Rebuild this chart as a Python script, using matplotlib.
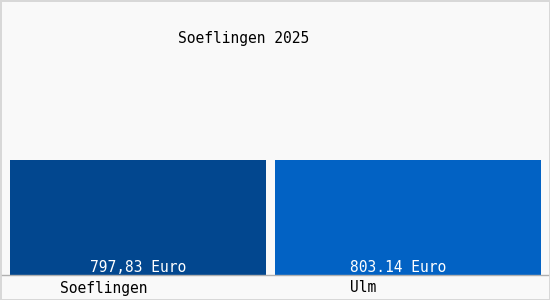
import matplotlib.pyplot as plt
from matplotlib.lines import Line2D
import matplotlib.transforms as mtransforms

places = ["Soeflingen", "Ulm"]
values = [797.83, 803.14]
value_labels = ["797,83 Euro", "803.14 Euro"]
colors = ["#02478F", "#0262C4"]
title = "Soeflingen 2025"

mono = "DejaVu Sans Mono"

fig = plt.figure(figsize=(5.5, 3), dpi=100)
fig.patch.set_facecolor("#F9F9F9")
fig.patch.set_edgecolor("#D8D8D8")
fig.patch.set_linewidth(2)

ax = fig.add_axes([10 / 550, 25 / 300, 531 / 550, 275 / 300])
ax.set_facecolor("none")
xs = list(range(len(places)))
widths = [0.948, 0.985]
ax.bar(xs, values, width=widths, color=colors)
ax.set_xlim(-widths[0] / 2, xs[-1] + widths[-1] / 2)
ax.set_ylim(0, 803.14 * 275 / 115.5)
ax.axis("off")

trans = mtransforms.blended_transform_factory(ax.transData, ax.transAxes)

# value labels inside bars, near the bottom
shifts = [0.0, -0.037]
for x, lab, s in zip(xs, value_labels, shifts):
    ax.text(x + s, 7 / 275, lab, transform=trans, ha="center", va="center",
            color="white", fontsize=10.5, family=mono)

# category labels under the axis
name_shifts = [-0.126, -0.167]
for x, name, s in zip(xs, places, name_shifts):
    ax.text(x + s, -13 / 275, name, transform=trans, ha="center", va="center",
            color="black", fontsize=10.5, family=mono)

fig.add_artist(Line2D([2 / 550, 548 / 550], [25 / 300, 25 / 300], color="#B0B0B0", lw=1))
fig.text(244 / 550, 1 - 38 / 300, title, ha="center", va="center", fontsize=10.5, family=mono)

fig.savefig("out.png", dpi=100, facecolor=fig.get_facecolor(), edgecolor=fig.get_edgecolor())
